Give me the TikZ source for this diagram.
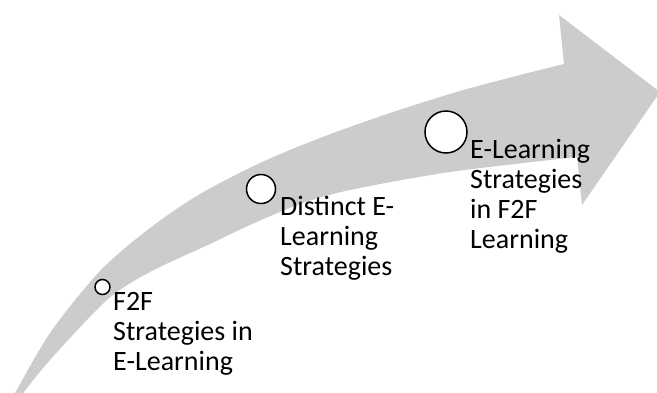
\documentclass[tikz,border=0pt]{standalone}
\usepackage{fontspec}
\setmainfont{Carlito}
\definecolor{arrowgrey}{RGB}{204,204,204}
\tikzset{
  dot/.style={circle, draw=black, fill=white, line width=1.5pt, inner sep=0pt},
  lbl/.style={anchor=north west, inner sep=0pt, align=left, font=\fontsize{28}{30}\selectfont}
}
\begin{document}
\begin{tikzpicture}[x=1pt, y=-1pt]
\useasboundingbox (0,0) rectangle (657,392);
\clip (0,0) rectangle (657,392);
\fill[arrowgrey] plot[smooth] coordinates {(13,397) (50,333) (100,271) (150,228) (200,194) (260,163) (320,138) (390,113) (460,91) (520,75) (564,64)}
  -- (559,15) -- (660,92) -- (582,205) -- (577,157)
  -- plot[smooth] coordinates {(577,157) (450,172) (350,190) (300,204) (250,225) (210,244) (150,272) (107,300) (50,360) (20,397)}
  -- cycle;
\node[dot, minimum size=15pt] (c1) at (102.5,287) {};
\node[dot, minimum size=29pt] (c2) at (261,189) {};
\node[dot, minimum size=42pt] (c3) at (446,132) {};
\node[lbl] (t1) at (113,292) {F2F\\Strategies in\\E-Learning};
\node[lbl] (t2) at (280,196) {Distinct E-\\Learning\\Strategies};
\node[lbl] (t3) at (470,139) {E-Learning\\Strategies\\in F2F\\Learning};
\end{tikzpicture}
\end{document}
